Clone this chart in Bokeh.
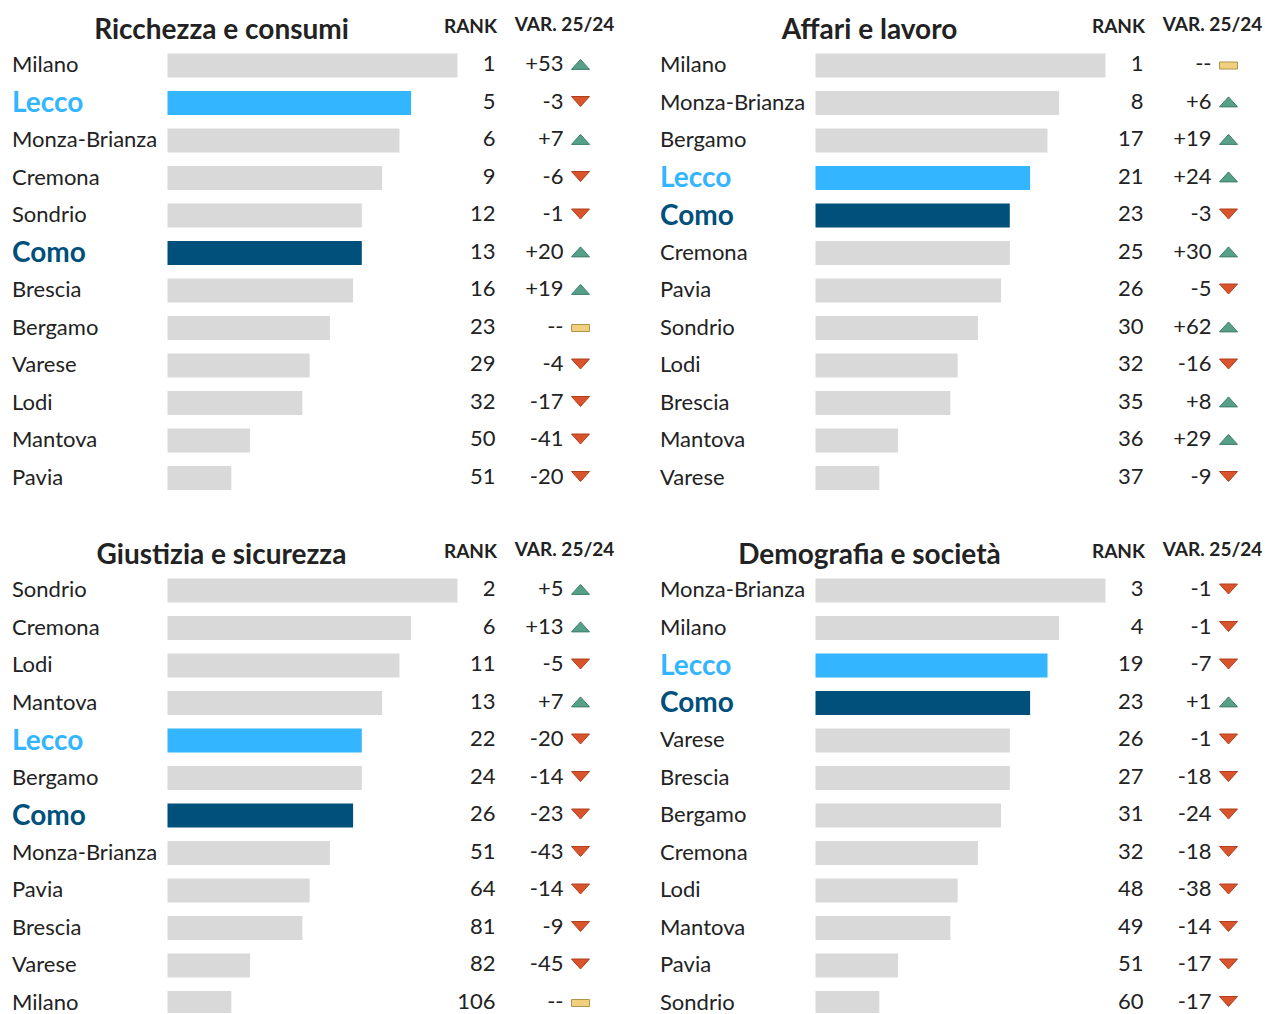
from bokeh.plotting import figure
from bokeh.layouts import column, row
from bokeh.models import Range1d, ColumnDataSource
from bokeh.core.properties import value
from bokeh.embed import file_html
from bokeh.resources import INLINE

# ---------------- data ----------------
titles = ["Ricchezza e consumi", "Affari e lavoro",
          "Giustizia e sicurezza", "Demografia e società"]

ricchezza_names = ["Milano", "Lecco", "Monza-Brianza", "Cremona", "Sondrio", "Como",
                   "Brescia", "Bergamo", "Varese", "Lodi", "Mantova", "Pavia"]
ricchezza_rank = [1, 5, 6, 9, 12, 13, 16, 23, 29, 32, 50, 51]
ricchezza_var = [53, -3, 7, -6, -1, 20, 19, None, -4, -17, -41, -20]
ricchezza_score = [100, 84, 80, 74, 67, 67, 64, 56, 49, 46.5, 28.5, 22]

affari_names = ["Milano", "Monza-Brianza", "Bergamo", "Lecco", "Como", "Cremona",
                "Pavia", "Sondrio", "Lodi", "Brescia", "Mantova", "Varese"]
affari_rank = [1, 8, 17, 21, 23, 25, 26, 30, 32, 35, 36, 37]
affari_var = [None, 6, 19, 24, -3, 30, -5, 62, -16, 8, 29, -9]
affari_score = [100, 84, 80, 74, 67, 67, 64, 56, 49, 46.5, 28.5, 22]

giustizia_names = ["Sondrio", "Cremona", "Lodi", "Mantova", "Lecco", "Bergamo",
                   "Como", "Monza-Brianza", "Pavia", "Brescia", "Varese", "Milano"]
giustizia_rank = [2, 6, 11, 13, 22, 24, 26, 51, 64, 81, 82, 106]
giustizia_var = [5, 13, -5, 7, -20, -14, -23, -43, -14, -9, -45, None]
giustizia_score = [100, 84, 80, 74, 67, 67, 64, 56, 49, 46.5, 28.5, 22]

demografia_names = ["Monza-Brianza", "Milano", "Lecco", "Como", "Varese", "Brescia",
                    "Bergamo", "Cremona", "Lodi", "Mantova", "Pavia", "Sondrio"]
demografia_rank = [3, 4, 19, 23, 26, 27, 31, 32, 48, 49, 51, 60]
demografia_var = [-1, -1, -7, 1, -1, -18, -24, -18, -38, -14, -17, -17]
demografia_score = [100, 84, 80, 74, 67, 67, 64, 56, 49, 46.5, 28.5, 22]

# ---------------- style ----------------
FONT = "Lato"
TXT = "#222222"
GREY = "#d9d9d9"
HIGHLIGHT = {"Lecco": "#33b5ff", "Como": "#00507c"}
UP_FILL, UP_LINE = "#56a089", "#3d7d68"
DOWN_FILL, DOWN_LINE = "#d9532c", "#b0401d"
NEU_FILL, NEU_LINE = "#f2cf7e", "#b0944c"

NAME_SIZE = "22px"
HL_SIZE = "28px"
NUM_SIZE = "22px"
TITLE_SIZE = "28px"
HEAD_SIZE = "19px"
TEXT_DY = -2    # small upward nudge of row texts (screen px)

UNIT = 2.9      # px per score unit
BAR0 = 167      # px where the bars start inside a panel
ROW0 = 65       # px of first row centre
ROWSTEP = 37.5  # px between rows


def px(x):
    return (x - BAR0) / UNIT


def py(y):
    return (y - ROW0) / ROWSTEP


def panel(title, names, ranks, var, score, width, height, x0, x1, y0, y1):
    p = figure(width=width, height=height, output_backend="svg", toolbar_location=None,
               tools="", x_range=Range1d(px(x0), px(x1)),
               y_range=Range1d(py(y1), py(y0)), min_border=0,
               outline_line_color=None, x_axis_location=None, y_axis_location=None,
               background_fill_color="white", border_fill_color="white")
    p.grid.visible = False

    ys = list(range(len(names)))
    bar_col = [HIGHLIGHT.get(n, GREY) for n in names]
    name_col = [HIGHLIGHT.get(n, TXT) for n in names]
    name_size = [HL_SIZE if n in HIGHLIGHT else NAME_SIZE for n in names]
    name_style = ["bold" if n in HIGHLIGHT else "normal" for n in names]
    var_txt = ["--" if v is None else ("+%d" % v if v > 0 else "%d" % v) for v in var]
    src = ColumnDataSource(dict(y=ys, score=score, bar_col=bar_col, name=names,
                                name_col=name_col, name_size=name_size,
                                name_style=name_style,
                                rank=[str(r) for r in ranks], var=var_txt))

    p.hbar(y="y", left=0, right="score", height=24 / ROWSTEP, fill_color="bar_col",
           line_color=None, source=src)

    p.text(x=px(11.5), y="y", text="name", text_color="name_col",
           text_font_size="name_size", text_font_style="name_style", y_offset=TEXT_DY,
           text_font=value(FONT), text_align="left", text_baseline="middle", source=src)
    p.text(x=px(495), y="y", text="rank", text_color=TXT, text_font_size=NUM_SIZE,
           text_font=value(FONT), text_align="right", text_baseline="middle",
           y_offset=TEXT_DY, source=src)
    p.text(x=px(563), y="y", text="var", text_color=TXT, text_font_size=NUM_SIZE,
           text_font=value(FONT), text_align="right", text_baseline="middle",
           y_offset=TEXT_DY, source=src)

    # markers
    cx = px(580)
    hw = 9 / UNIT
    hh = 5 / ROWSTEP
    up_xs, up_ys, dn_xs, dn_ys = [], [], [], []
    neu = dict(l=[], r=[], t=[], b=[])
    for i, v in enumerate(var):
        if v is None:
            neu["l"].append(cx - hw)
            neu["r"].append(cx + hw)
            neu["t"].append(i - 3.5 / ROWSTEP)
            neu["b"].append(i + 3.5 / ROWSTEP)
        elif v > 0:
            up_xs.append([cx - hw, cx + hw, cx])
            up_ys.append([i + hh - 0.03, i + hh - 0.03, i - hh - 0.03])
        else:
            dn_xs.append([cx - hw, cx + hw, cx])
            dn_ys.append([i - hh - 0.04, i - hh - 0.04, i + hh - 0.04])
    if up_xs:
        p.patches(up_xs, up_ys, fill_color=UP_FILL, line_color=UP_LINE, line_width=1)
    if dn_xs:
        p.patches(dn_xs, dn_ys, fill_color=DOWN_FILL, line_color=DOWN_LINE, line_width=1)
    if neu["l"]:
        p.quad(left=neu["l"], right=neu["r"], top=neu["t"], bottom=neu["b"],
               fill_color=NEU_FILL, line_color=NEU_LINE, line_width=1)

    # headers
    p.text(x=[px(221)], y=[py(27)], text=[title], text_color=TXT, text_font_size=TITLE_SIZE,
           text_font_style="bold", text_font=value(FONT), text_align="center",
           text_baseline="middle")
    p.text(x=[px(470)], y=[py(25)], text=["RANK"], text_color=TXT, text_font_size=HEAD_SIZE,
           text_font_style="bold", text_font=value(FONT), text_align="center",
           text_baseline="middle")
    p.text(x=[px(564)], y=[py(23)], text=["VAR. 25/24"], text_color=TXT,
           text_font_size=HEAD_SIZE, text_font_style="bold", text_font=value(FONT),
           text_align="center", text_baseline="middle")
    return p


# the page template has no body margin: panels map 1:1 to the reference
# left panels cover local x 0..648, right ones 0..616; top y 0..525, bottom 0..488
p1 = panel(titles[0], ricchezza_names, ricchezza_rank, ricchezza_var, ricchezza_score,
           648, 525, 0, 648, 0, 525)
p2 = panel(titles[1], affari_names, affari_rank, affari_var, affari_score,
           616, 525, 0, 616, 0, 525)
p3 = panel(titles[2], giustizia_names, giustizia_rank, giustizia_var, giustizia_score,
           648, 488, 0, 648, 0, 488)
p4 = panel(titles[3], demografia_names, demografia_rank, demografia_var, demografia_score,
           616, 488, 0, 616, 0, 488)

layout = column(row(p1, p2), row(p3, p4))
open("out.html", "w").write(file_html(layout, INLINE))
